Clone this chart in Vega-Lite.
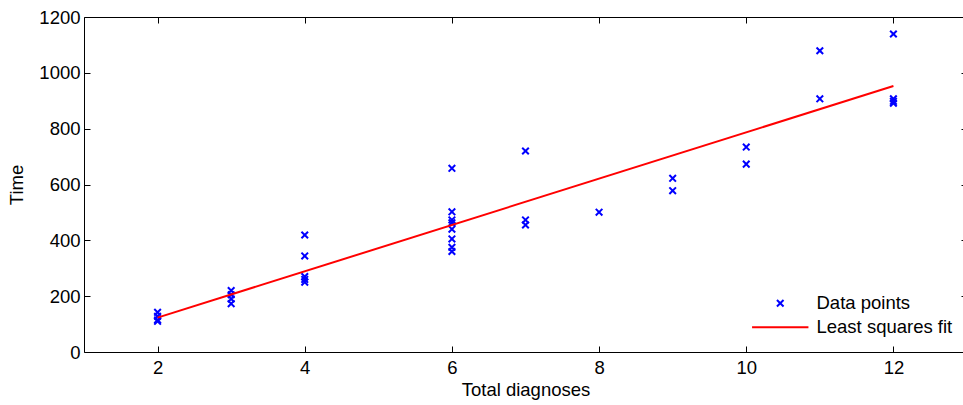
{
  "$schema": "https://vega.github.io/schema/vega-lite/v6.json",
  "width": 883,
  "height": 335,
  "autosize": {"type": "none"},
  "padding": {"left": 84, "top": 17, "right": 0, "bottom": 53},
  "background": "white",
  "config": {
    "view": {"stroke": null},
    "font": "Liberation Sans",
    "axis": {
      "grid": false,
      "domainColor": "#000000",
      "domainWidth": 1,
      "tickColor": "#000000",
      "tickWidth": 1,
      "tickSize": -6,
      "labelFontSize": 18.5,
      "labelColor": "#000000",
      "labelFont": "Liberation Sans",
      "titleFontSize": 18.5,
      "titleFontWeight": "normal",
      "titleColor": "#000000",
      "titleFont": "Liberation Sans"
    },
    "legend": {
      "orient": "none",
      "legendX": 687,
      "legendY": 277,
      "padding": 0,
      "labelFontSize": 18.5,
      "labelColor": "#000000",
      "labelFont": "Liberation Sans",
      "labelOffset": 27,
      "symbolStrokeWidth": 2,
      "symbolSize": 189,
      "rowPadding": 5
    }
  },
  "datasets": {
    "pts": [
      {"x": 2, "y": 142, "series": "Data points"},
      {"x": 2, "y": 128, "series": "Data points"},
      {"x": 2, "y": 115, "series": "Data points"},
      {"x": 2, "y": 110, "series": "Data points"},
      {"x": 3, "y": 220, "series": "Data points"},
      {"x": 3, "y": 205, "series": "Data points"},
      {"x": 3, "y": 190, "series": "Data points"},
      {"x": 3, "y": 173, "series": "Data points"},
      {"x": 4, "y": 419, "series": "Data points"},
      {"x": 4, "y": 344, "series": "Data points"},
      {"x": 4, "y": 270, "series": "Data points"},
      {"x": 4, "y": 260, "series": "Data points"},
      {"x": 4, "y": 250, "series": "Data points"},
      {"x": 6, "y": 658, "series": "Data points"},
      {"x": 6, "y": 502, "series": "Data points"},
      {"x": 6, "y": 473, "series": "Data points"},
      {"x": 6, "y": 463, "series": "Data points"},
      {"x": 6, "y": 440, "series": "Data points"},
      {"x": 6, "y": 405, "series": "Data points"},
      {"x": 6, "y": 375, "series": "Data points"},
      {"x": 6, "y": 360, "series": "Data points"},
      {"x": 7, "y": 720, "series": "Data points"},
      {"x": 7, "y": 473, "series": "Data points"},
      {"x": 7, "y": 455, "series": "Data points"},
      {"x": 8, "y": 501, "series": "Data points"},
      {"x": 9, "y": 622, "series": "Data points"},
      {"x": 9, "y": 578, "series": "Data points"},
      {"x": 10, "y": 734, "series": "Data points"},
      {"x": 10, "y": 673, "series": "Data points"},
      {"x": 11, "y": 1079, "series": "Data points"},
      {"x": 11, "y": 907, "series": "Data points"},
      {"x": 12, "y": 1139, "series": "Data points"},
      {"x": 12, "y": 907, "series": "Data points"},
      {"x": 12, "y": 898, "series": "Data points"},
      {"x": 12, "y": 891, "series": "Data points"}
    ],
    "fit": [
      {"x": 2, "y": 123, "series": "Least squares fit"},
      {"x": 12, "y": 953, "series": "Least squares fit"}
    ]
  },
  "layer": [
    {
      "data": {"name": "pts"},
      "mark": {"type": "point", "filled": false, "size": 189, "strokeWidth": 2, "opacity": 1},
      "encoding": {
        "x": {"field": "x", "type": "quantitative", "scale": {"domain": [1, 13], "nice": false, "zero": false},
              "axis": {"orient": "bottom", "values": [2, 4, 6, 8, 10, 12], "format": "d", "title": "Total diagnoses", "labelPadding": 12, "titlePadding": 4}},
        "y": {"field": "y", "type": "quantitative", "scale": {"domain": [0, 1200], "nice": false},
              "axis": {"orient": "left", "values": [0, 200, 400, 600, 800, 1000, 1200], "format": "d", "title": "Time", "labelPadding": 10, "titlePadding": 12}},
        "color": {"field": "series", "type": "nominal", "title": null,
                  "scale": {"domain": ["Data points", "Least squares fit"], "range": ["#0000ff", "#ff0000"]}},
        "shape": {"field": "series", "type": "nominal", "title": null,
                  "scale": {"domain": ["Data points", "Least squares fit"], "range": ["M-0.48,-0.48L0.48,0.48M-0.48,0.48L0.48,-0.48", "M-4.1,0L4.1,0"]}}
      }
    },
    {
      "data": {"name": "fit"},
      "mark": {"type": "line", "strokeWidth": 2},
      "encoding": {
        "x": {"field": "x", "type": "quantitative", "scale": {"domain": [1, 13], "nice": false, "zero": false},
              "axis": {"orient": "top", "values": [2, 4, 6, 8, 10, 12], "labels": false, "title": null}},
        "y": {"field": "y", "type": "quantitative", "scale": {"domain": [0, 1200], "nice": false},
              "axis": {"orient": "right", "values": [0, 200, 400, 600, 800, 1000, 1200], "labels": false, "title": null}},
        "color": {"field": "series", "type": "nominal", "title": null,
                  "scale": {"domain": ["Data points", "Least squares fit"], "range": ["#0000ff", "#ff0000"]}}
      }
    }
  ],
  "resolve": {"axis": {"x": "independent", "y": "independent"}}
}
